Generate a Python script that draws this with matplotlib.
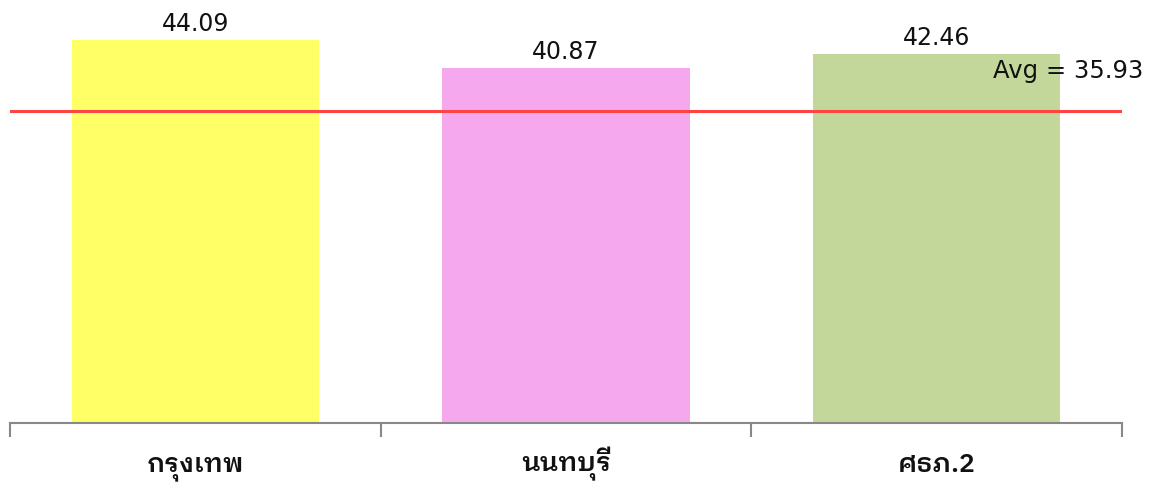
import matplotlib
matplotlib.use('Agg')
import matplotlib.pyplot as plt

# data
categories = ['กรุงเทพ', 'นนทบุรี', 'ศธภ.2']
values = [44.09, 40.87, 42.46]
avg_value = 35.93
bar_colors = ['#FFFF66', '#F5A8EE', '#C4D79B']

thai_font = ['IBM Plex Sans Thai Looped', 'DejaVu Sans']
num_font = ['DejaVu Sans']

fig = plt.figure(figsize=(11.5, 4.82), dpi=100)
ax = fig.add_axes([10 / 1150, 59 / 482, 1112 / 1150, 423 / 482])

x = list(range(len(categories)))
ax.bar(x, values, width=0.667, color=bar_colors, zorder=2)

for xi, v in zip(x, values):
    ax.text(xi, v + 0.5, f'{v:.2f}', ha='center', va='bottom', fontsize=17,
            family=num_font, color='#111111')

# average line
ax.axhline(avg_value, color='#FF4444', linewidth=2.2, zorder=3)
fig.text(1143 / 1150, 1 - 71 / 482, f'Avg = {avg_value:.2f}', ha='right', va='center',
         fontsize=17.5, family=num_font, color='#111111')

ax.set_xlim(-0.5, len(categories) - 0.5)
ax.set_ylim(0, 48.7)

for side in ['top', 'right', 'left']:
    ax.spines[side].set_visible(False)
ax.spines['bottom'].set_color('#888888')
ax.spines['bottom'].set_linewidth(1.5)
ax.set_yticks([])

# ticks on category boundaries, labels at centers
ax.set_xticks([-0.5, 0.5, 1.5, 2.5])
ax.set_xticklabels([])
ax.tick_params(axis='x', length=10, width=1.5, color='#888888')
ax.set_xticks(x, minor=True)
ax.set_xticklabels(categories, minor=True, fontsize=19, fontweight='semibold',
                   family=thai_font, color='#111111')
ax.tick_params(axis='x', which='minor', length=0, pad=35)
for lbl in ax.get_xticklabels(minor=True):
    lbl.set_verticalalignment('baseline')

fig.savefig('out.png', dpi=100)
